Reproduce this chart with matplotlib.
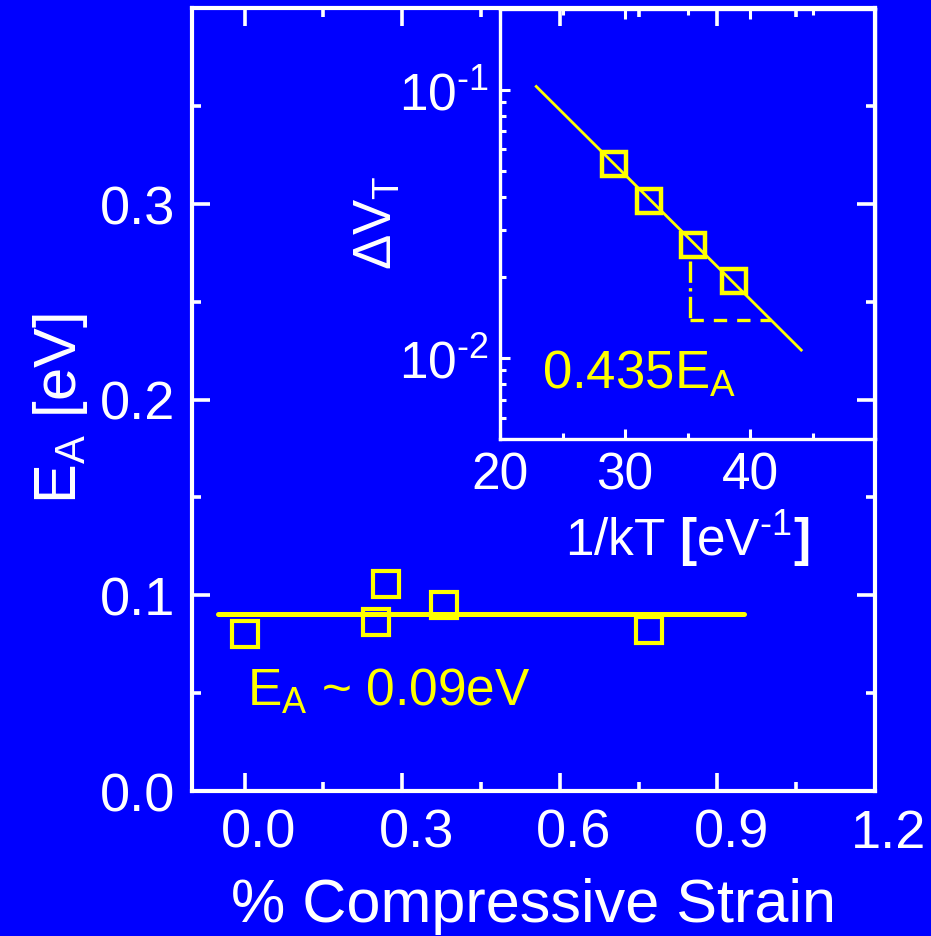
import numpy as np
import matplotlib
matplotlib.use('Agg')
import matplotlib.pyplot as plt
import matplotlib.transforms as mtransforms
from matplotlib.ticker import MultipleLocator, LogLocator, NullFormatter, FixedLocator

plt.rcParams['font.family'] = ['Liberation Sans', 'DejaVu Sans']
plt.rcParams['mathtext.fontset'] = 'custom'
plt.rcParams['mathtext.rm'] = 'Liberation Sans'
plt.rcParams['mathtext.it'] = 'Liberation Sans:italic'
plt.rcParams['mathtext.bf'] = 'Liberation Sans:bold'

BLUE = '#0000ff'
YEL = '#ffff00'
WHITE = 'white'
HYPH = '\u2010'  # short hyphen for the exponents, like the original

# main panel data: activation energy vs strain
strain = [0.0, 0.25, 0.27, 0.38, 0.77]
e_act = [0.080, 0.0865, 0.1055, 0.095, 0.082]
fit_x = [-0.05, 0.95]
fit_e = [0.0905, 0.0905]

# inset data: threshold voltage shift vs 1/kT
inv_kt = [29.1, 31.9, 35.4, 38.7]
dvt = [0.0528, 0.0385, 0.0263, 0.0194]
line_x = [22.9, 44.1]
line_y = [0.1029, 0.01072]
tri_x = [35.2, 41.7]
tri_y = [0.0231, 0.01387]

main_xticks = [0.0, 0.3, 0.6, 0.9, 1.2]
main_yticks = [0.0, 0.1, 0.2, 0.3]
inset_xticks = [20, 30, 40]
inset_yticks = [0.01, 0.1]
inset_ylabels = ['$\\mathregular{10^{' + HYPH + '2}}$', '$\\mathregular{10^{' + HYPH + '1}}$']

fig = plt.figure(figsize=(9.31, 9.37), dpi=100, facecolor=BLUE)

ax = fig.add_axes([192/931, 1-792/937, 683/931, 783/937], facecolor=BLUE)
ax.set_xlim(-0.1, 1.2)
ax.set_ylim(0.0, 0.4)
for s in ax.spines.values():
    s.set_color(WHITE)
    s.set_linewidth(3)
ax.set_xticks(main_xticks)
ax.set_xticklabels(['%.1f' % v for v in main_xticks])
ax.set_yticks(main_yticks)
ax.set_yticklabels(['%.1f' % v for v in main_yticks])
ax.xaxis.set_minor_locator(MultipleLocator(0.15))
ax.yaxis.set_minor_locator(MultipleLocator(0.05))
ax.tick_params(which='both', direction='in', top=True, right=True, colors=WHITE,
               labelsize=39, width=2.6)
ax.tick_params(which='major', length=13, pad=12)
ax.tick_params(which='minor', length=6.5)
# tick labels sit a little to the right of their ticks in the original
shift = mtransforms.ScaledTranslation(14/100, 0, fig.dpi_scale_trans)
for lab in ax.get_xticklabels():
    lab.set_transform(lab.get_transform() + shift)

ax.plot(fit_x, fit_e, color=YEL, lw=3.6, solid_capstyle='round')
ax.plot(strain, e_act, ls='none', marker='s', ms=18.5, mew=3,
        mec=YEL, mfc='none')
ax.text(0.005, 0.044, r'E$_\mathregular{A}$ ~ 0.09eV', color=YEL, fontsize=37,
        ha='left', va='baseline')

ax.set_xlabel('% Compressive Strain', color=WHITE, fontsize=44)
ax.xaxis.set_label_coords(0.5, -0.11)
ax.set_ylabel(r'E$_\mathregular{A}$ [eV]', color=WHITE, fontsize=43)
ax.yaxis.set_label_coords(-0.15, 0.49)

# inset
ins = fig.add_axes([500/931, 1-440/937, 375/931, 430/937], facecolor='none')
ins.set_yscale('log')
ins.set_xlim(20, 50)
ins.set_ylim(0.005, 0.2)
for s in ins.spines.values():
    s.set_color(WHITE)
    s.set_linewidth(2.4)
ins.set_xticks(inset_xticks)
ins.set_xticklabels([str(v) for v in inset_xticks])
ins.xaxis.set_minor_locator(FixedLocator([25, 35, 45]))
ins.set_yticks(inset_yticks)
ins.set_yticklabels(inset_ylabels)
ins.yaxis.set_minor_locator(LogLocator(base=10, subs=np.arange(2, 10), numticks=20))
ins.yaxis.set_minor_formatter(NullFormatter())
ins.tick_params(which='both', direction='in', colors=WHITE, labelsize=37, width=2.2)
ins.tick_params(which='major', length=7, pad=8)
ins.tick_params(which='minor', length=4.5)
ins.tick_params(axis='x', which='both', top=True)

ins.plot(line_x, line_y, color=YEL, lw=2)
ins.plot(inv_kt, dvt, ls='none', marker='s', ms=17, mew=3.2, mec=YEL, mfc='none')
ins.plot([tri_x[0], tri_x[0]], [tri_y[0], tri_y[1]], color=YEL, lw=2.4, ls='-.')
ins.plot([tri_x[0], tri_x[1]], [tri_y[1], tri_y[1]], color=YEL, lw=2.4, ls=(0, (4, 3)))
ins.text(23.4, 0.0078, r'0.435E$_\mathregular{A}$', color=YEL, fontsize=38,
         ha='left', va='baseline')

ins.set_xlabel('1/kT $\\mathbf{[}$eV$^{\\mathregular{' + HYPH + '1}}$$\\mathbf{]}$',
               color=WHITE, fontsize=37)
ins.xaxis.set_label_coords(0.5, -0.16)
ins.set_ylabel(r'$\mathregular{\Delta V_T}$', color=WHITE, fontsize=38)
ins.yaxis.set_label_coords(-0.26, 0.505)

fig.savefig('out.png', dpi=100, facecolor=BLUE)
